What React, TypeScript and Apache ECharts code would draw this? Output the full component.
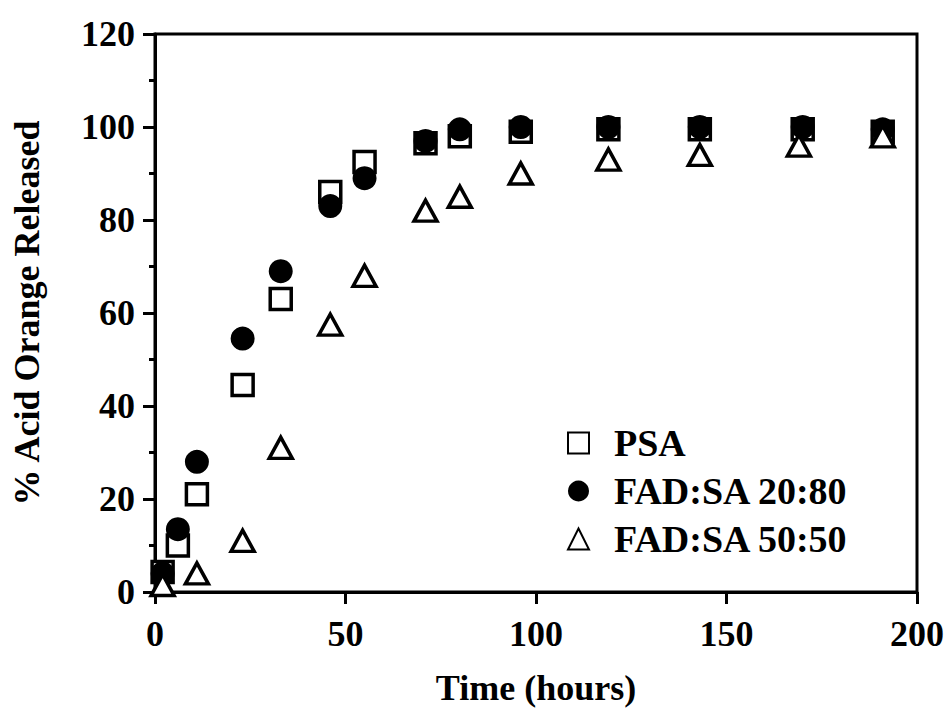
import React, { useEffect, useRef } from "react";
import * as echarts from "echarts";

const psa: [number, number][] = [
  [2, 4.3], [6, 10], [11, 21], [23, 44.5], [33, 63], [46, 86], [55, 92.5],
  [71, 96.5], [80, 98], [96, 99], [119, 99.5], [143, 99.5], [170, 99.5], [191, 99],
];
const fad2080: [number, number][] = [
  [2, 4], [6, 13.5], [11, 28], [23, 54.5], [33, 69], [46, 83], [55, 89],
  [71, 97], [80, 99.5], [96, 100], [119, 100], [143, 100], [170, 100], [191, 99.5],
];
const fad5050: [number, number][] = [
  [2, 1.5], [11, 4], [23, 11], [33, 31], [46, 57.5], [55, 68], [71, 82],
  [80, 85], [96, 90], [119, 93], [143, 94], [169, 96], [191, 98],
];
const seriesNames = ["PSA", "FAD:SA 20:80", "FAD:SA 50:50"];
const xTicks = [0, 50, 100, 150, 200];
const yTicks = [0, 20, 40, 60, 80, 100, 120];

const FONT = "'Liberation Serif', 'Times New Roman', serif";

export default function App() {
  const ref = useRef<HTMLDivElement>(null);
  useEffect(() => {
    document.body.style.margin = "0";
    const chart = echarts.init(ref.current!, undefined, { renderer: "svg" });
    const textStyle = { fontFamily: FONT, fontWeight: "bold" as const, color: "#000" };
    chart.setOption({
      animation: false,
      backgroundColor: "#fff",
      grid: {
        left: 155, right: 27, top: 34, bottom: 120,
        show: true, borderColor: "#000", borderWidth: 3,
      },
      legend: {
        orient: "vertical",
        left: 562,
        top: 419,
        itemGap: 10,
        itemWidth: 21,
        itemHeight: 21,
        textStyle: { ...textStyle, fontSize: 38, padding: [0, 0, 0, 20] },
        data: seriesNames,
      },
      xAxis: {
        type: "value",
        min: xTicks[0],
        max: xTicks[xTicks.length - 1],
        interval: 50,
        name: "Time (hours)",
        nameLocation: "middle",
        nameGap: 78,
        nameTextStyle: { ...textStyle, fontSize: 36 },
        axisLine: { lineStyle: { color: "#000", width: 3 } },
        axisTick: { show: true, length: 12, lineStyle: { color: "#000", width: 3 } },
        axisLabel: { ...textStyle, fontSize: 36, margin: 24 },
        splitLine: { show: false },
      },
      yAxis: {
        type: "value",
        min: yTicks[0],
        max: yTicks[yTicks.length - 1],
        interval: 20,
        name: "% Acid Orange Released",
        nameLocation: "middle",
        nameGap: 110,
        nameTextStyle: { ...textStyle, fontSize: 36 },
        axisLine: { lineStyle: { color: "#000", width: 3 } },
        axisTick: { show: true, length: 12, lineStyle: { color: "#000", width: 3 } },
        minorTick: { show: true, splitNumber: 2, length: 6, lineStyle: { color: "#000", width: 3 } },
        axisLabel: { ...textStyle, fontSize: 36, margin: 20 },
        splitLine: { show: false },
      },
      series: [
        {
          name: seriesNames[0], type: "scatter", data: psa, symbol: "rect", symbolSize: 21,
          itemStyle: { color: "#fff", borderColor: "#000", borderWidth: 3.5, opacity: 1 },
        },
        {
          name: seriesNames[1], type: "scatter", data: fad2080, symbol: "circle", symbolSize: 24,
          itemStyle: { color: "#000", borderColor: "#000", borderWidth: 0, opacity: 1 },
        },
        {
          name: seriesNames[2], type: "scatter", data: fad5050, symbol: "triangle", symbolSize: [23, 21],
          itemStyle: { color: "#fff", borderColor: "#000", borderWidth: 3.5, opacity: 1 },
        },
      ],
    });
    return () => chart.dispose();
  }, []);
  return <div ref={ref} style={{ width: 947, height: 712 }} />;
}
